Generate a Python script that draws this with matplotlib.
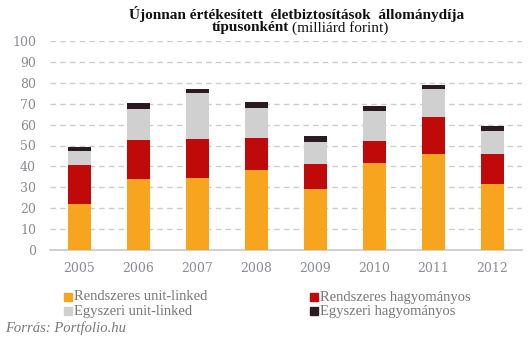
import matplotlib
matplotlib.use("Agg")
import matplotlib.pyplot as plt
from matplotlib.patches import Rectangle

years = ["2005", "2006", "2007", "2008", "2009", "2010", "2011", "2012"]
rendszeres_unit = [22.0, 34.0, 34.4, 38.3, 29.2, 41.6, 45.9, 31.6]
rendszeres_hagy = [18.7, 18.6, 18.7, 15.3, 11.9, 10.6, 17.7, 14.3]
egyszeri_unit = [6.7, 14.9, 22.0, 14.3, 10.6, 14.3, 13.4, 11.0]
egyszeri_hagy = [1.9, 2.8, 1.9, 2.9, 2.8, 2.4, 2.1, 2.4]

series = [
    ("Rendszeres unit-linked", rendszeres_unit, "#F7A51F"),
    ("Rendszeres hagyományos", rendszeres_hagy, "#C00A0A"),
    ("Egyszeri unit-linked", egyszeri_unit, "#D0D0D0"),
    ("Egyszeri hagyományos", egyszeri_hagy, "#2B1A22"),
]

W, H = 531, 342
fig = plt.figure(figsize=(W / 100, H / 100), dpi=100)
ax = fig.add_axes([50 / W, 1 - 250 / H, 472 / W, 209 / H])

x = list(range(len(years)))
bottom = [0.0] * len(years)
for name, vals, col in series:
    ax.bar(x, vals, width=0.4, bottom=bottom, color=col, zorder=3, linewidth=0)
    bottom = [b + v for b, v in zip(bottom, vals)]

ax.set_xlim(-0.5, len(years) - 0.5)
ax.set_ylim(0, 100)
ax.set_yticks(range(0, 101, 10))
ax.set_xticks(x)
ax.set_xticklabels(years)
ax.yaxis.grid(True, linestyle=(0, (4, 3)), color="#CCCCCC", linewidth=1, zorder=0)
for s in ["left", "right", "top"]:
    ax.spines[s].set_visible(False)
ax.spines["bottom"].set_color("#C8C8C8")
ax.spines["bottom"].set_linewidth(1.2)
ax.tick_params(axis="both", length=0, colors="#8A8A95", labelsize=9)
ax.tick_params(axis="y", pad=10)
ax.tick_params(axis="x", pad=9)
for lab in ax.get_yticklabels() + ax.get_xticklabels():
    lab.set_fontfamily("DejaVu Serif")

# Title
fig.text(297 / W, 1 - 14 / H, "Újonnan értékesített  életbiztosítások  állománydíja",
         ha="center", va="center", fontsize=11, fontweight="bold",
         family="Liberation Serif", color="#111111")
fig.text(289 / W, 1 - 28 / H, "típusonként", ha="right", va="center", fontsize=11,
         fontweight="bold", family="Liberation Serif", color="#111111")
fig.text(292 / W, 1 - 28 / H, "(milliárd forint)", ha="left", va="center", fontsize=11,
         family="Liberation Serif", color="#111111")

# Legend
pos = [(64, 297), (310, 297), (64, 311), (310, 311)]
for (name, vals, col), (px, py) in zip(series, pos):
    fig.patches.append(Rectangle((px / W, 1 - (py + 4) / H), 8 / W, 8 / H,
                                 transform=fig.transFigure, color=col))
    fig.text((px + 10) / W, 1 - py / H, name, ha="left", va="center", fontsize=10.5,
             family="Liberation Serif", color="#777777")

fig.text(5 / W, 1 - 328 / H, "Forrás: Portfolio.hu", ha="left", va="center",
         fontsize=10.5, style="italic", family="Liberation Serif", color="#777777")

fig.savefig("out.png", dpi=100)
